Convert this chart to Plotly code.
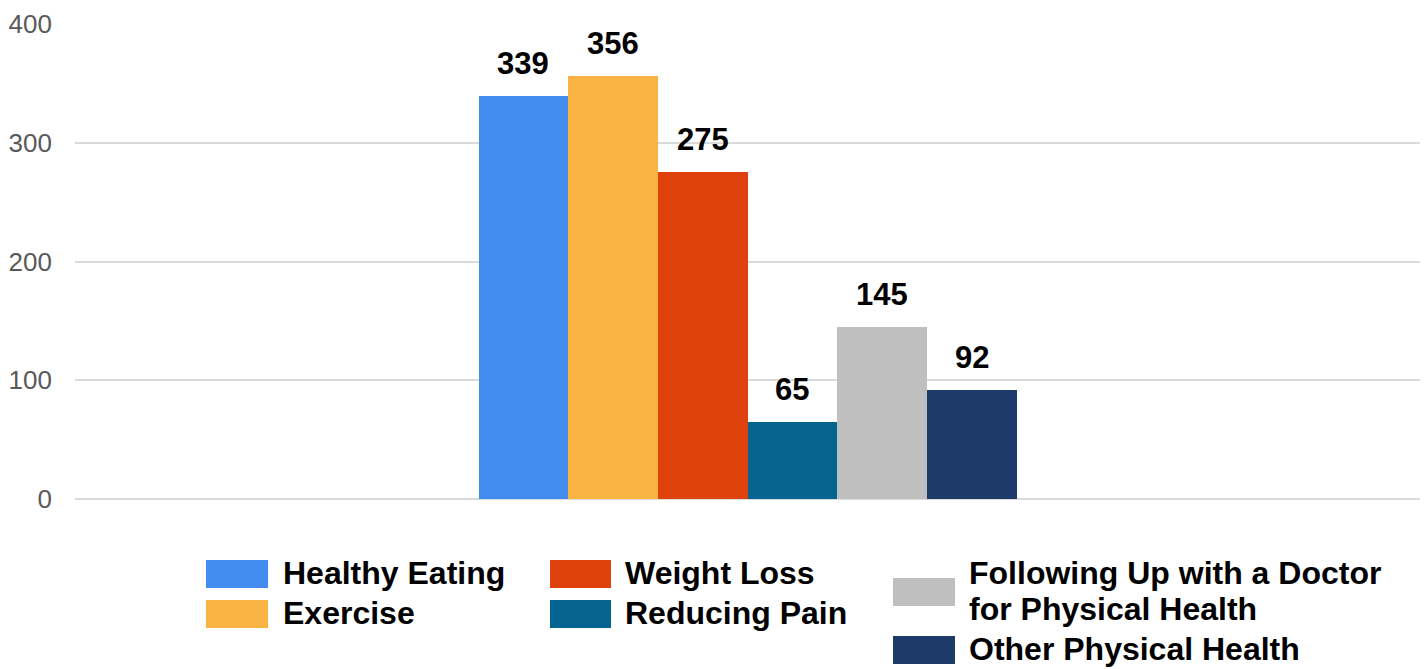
import plotly.graph_objects as go

# ---- data ----
series_names = [
    "Healthy Eating",
    "Exercise",
    "Weight Loss",
    "Reducing Pain",
    "Following Up with a Doctor<br>for Physical Health",
    "Other Physical Health",
]
series_values = [339, 356, 275, 65, 145, 92]
series_colors = ["#438CEF", "#FAB443", "#DF420D", "#066491", "#BFBFBF", "#1D3A68"]
y_ticks = [0, 100, 200, 300, 400]

# page body adds an 8px offset; work in screen pixels and subtract it
OFF = 8
W, H = 1428 - OFF, 669 - OFF
PLOT_L, PLOT_R, PLOT_T, PLOT_B = 75, 1420, 24, 499  # screen px
ML, MR, MT = PLOT_L - OFF, (W + OFF) - PLOT_R, PLOT_T - OFF
MB = (H + OFF) - PLOT_B
PW, PH = W - ML - MR, H - MT - MB
FONT = "Liberation Sans, Arial, sans-serif"

cats = [n.replace("<br>", " ") for n in series_names]

fig = go.Figure()
fig.add_trace(go.Bar(
    x=cats,
    y=series_values,
    marker=dict(color=series_colors, line=dict(width=0)),
    showlegend=False,
    hoverinfo="x+y",
))

# value labels above bars
for c, v in zip(cats, series_values):
    fig.add_annotation(
        x=c, y=v, xref="x", yref="y", text=f"<b>{v}</b>",
        showarrow=False, yanchor="bottom", yshift=13,
        font=dict(family=FONT, size=31, color="#000000"),
    )

# custom legend (large swatches), laid out in 3 columns; coordinates in screen px
def px_x(p):
    return (p - PLOT_L) / PW

def px_y(p):
    return (PLOT_B - p) / PH

legend_swatches = [
    # (series index, x0, x1, y0, y1)
    (0, 206, 268, 560, 588),
    (1, 206, 268, 600, 628),
    (2, 550, 611, 560, 588),
    (3, 550, 611, 600, 628),
    (4, 893, 955, 578, 606),
    (5, 893, 955, 636, 664),
]
legend_texts = [
    # (series index, line index, text x, text center y)
    (0, 0, 281, 572.5),
    (1, 0, 281, 612.5),
    (2, 0, 623, 572.5),
    (3, 0, 623, 612.5),
    (4, 0, 967, 572.5),
    (4, 1, 967, 609),
    (5, 0, 967, 649),
]
for idx, x0, x1, y0, y1 in legend_swatches:
    fig.add_shape(
        type="rect", xref="paper", yref="paper",
        x0=px_x(x0), x1=px_x(x1), y0=px_y(y1), y1=px_y(y0),
        fillcolor=series_colors[idx], line=dict(width=0),
    )
for idx, line, tx, ty in legend_texts:
    fig.add_annotation(
        xref="paper", yref="paper", x=px_x(tx), y=px_y(ty),
        xanchor="left", yanchor="middle", align="left",
        text=f"<b>{series_names[idx].split('<br>')[line]}</b>", showarrow=False,
        font=dict(family=FONT, size=32, color="#000000"),
    )

fig.update_layout(
    width=W, height=H,
    margin=dict(l=ML, r=MR, t=MT, b=MB, pad=0, autoexpand=False),
    paper_bgcolor="white", plot_bgcolor="white",
    bargap=0,
    showlegend=False,
    xaxis=dict(
        range=[-5, 10], showticklabels=False, showgrid=False,
        zeroline=False, showline=False, ticks="", automargin=False,
    ),
    yaxis=dict(
        range=[0, 400], tickvals=y_ticks, ticks="", automargin=False,
        showgrid=True, gridcolor="#DADADA", gridwidth=2,
        zeroline=True, zerolinecolor="#DADADA", zerolinewidth=2,
        showline=False,
        tickfont=dict(family=FONT, size=26, color="#595959"),
        ticklabelstandoff=22,
    ),
)

fig.write_html("out.html")
